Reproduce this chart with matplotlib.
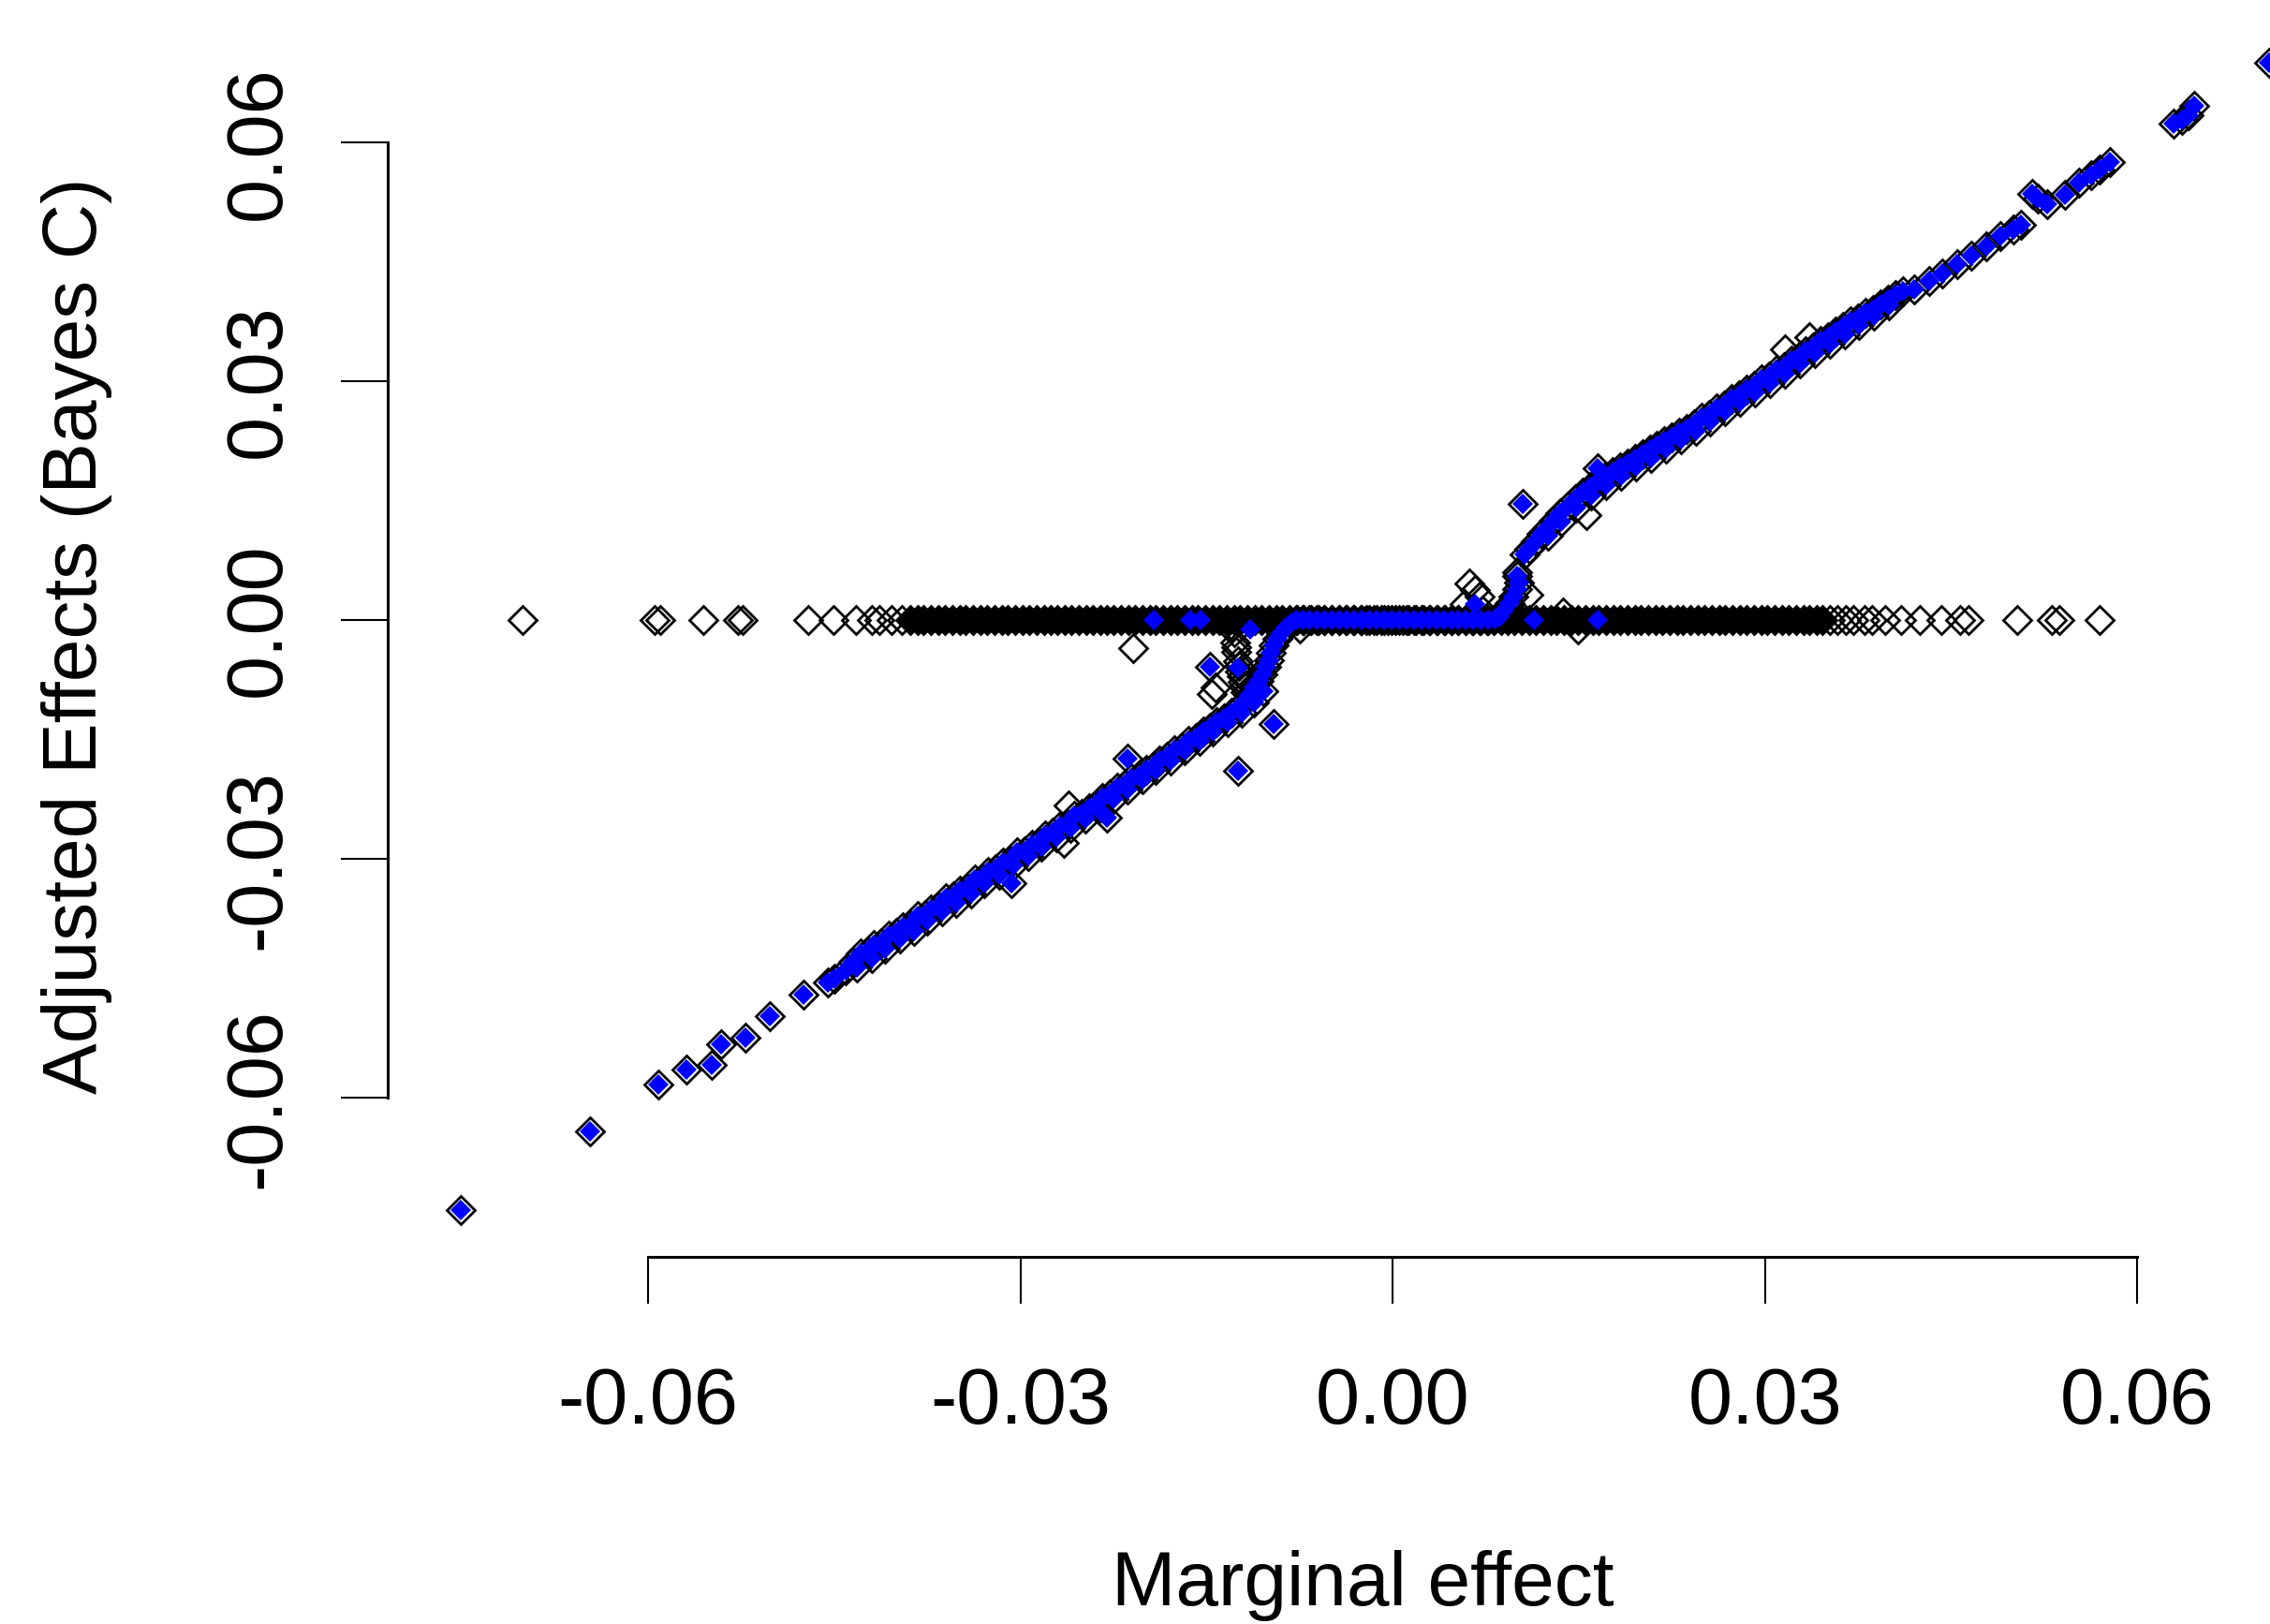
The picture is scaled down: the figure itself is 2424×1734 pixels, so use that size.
import matplotlib
matplotlib.use('Agg')
import matplotlib.pyplot as plt

plt.rcParams['font.family'] = ['Liberation Sans', 'DejaVu Sans']

# SNPs whose adjusted effect is zero (open diamonds, the sparse tails)
zero_x = [-0.0701, -0.0595, -0.0590, -0.0556, -0.0528, -0.0524, -0.0471, -0.0451, -0.0433,
          -0.0420, -0.0414, -0.0404, -0.0396,
          0.0352, 0.0358, 0.0365, 0.0371, 0.0380, 0.0386, 0.0397, 0.0410, 0.0425, 0.0442,
          0.0457, 0.0464, 0.0503, 0.0531, 0.0537, 0.0570]

# the heavily overplotted part of the zero line (thousands of SNPs, drawn solid)
zero_dense_x = [-0.0389, -0.0383, -0.0378, -0.0372, -0.0366, -0.0361, -0.0355, -0.0349, -0.0344, -0.0338,
                -0.0332, -0.0327, -0.0321, -0.0315, -0.0310, -0.0304, -0.0298, -0.0293, -0.0287, -0.0281,
                -0.0276, -0.0270, -0.0264, -0.0259, -0.0253, -0.0247, -0.0242, -0.0236, -0.0230, -0.0225,
                -0.0219, -0.0213, -0.0208, -0.0202, -0.0196, -0.0191, -0.0185, -0.0179, -0.0174, -0.0168,
                -0.0162, -0.0157, -0.0151, -0.0145, -0.0140, -0.0134, -0.0128, -0.0123, -0.0117, -0.0111,
                -0.0106, -0.0100, -0.0094, -0.0089, -0.0083, -0.0077, -0.0072, -0.0066, -0.0060, -0.0055,
                -0.0049, -0.0043, -0.0038, -0.0032, -0.0026, -0.0021, -0.0015, -0.0009, -0.0004, 0.0002,
                0.0008, 0.0013, 0.0019, 0.0025, 0.0030, 0.0036, 0.0042, 0.0047, 0.0053, 0.0059,
                0.0064, 0.0070, 0.0076, 0.0081, 0.0087, 0.0093, 0.0098, 0.0104, 0.0110, 0.0115,
                0.0121, 0.0127, 0.0132, 0.0138, 0.0144, 0.0149, 0.0155, 0.0161, 0.0166, 0.0172,
                0.0178, 0.0183, 0.0189, 0.0195, 0.0200, 0.0206, 0.0212, 0.0217, 0.0223, 0.0229,
                0.0234, 0.0240, 0.0246, 0.0251, 0.0257, 0.0263, 0.0268, 0.0274, 0.0280, 0.0285,
                0.0291, 0.0297, 0.0302, 0.0308, 0.0314, 0.0319, 0.0325, 0.0331, 0.0336, 0.0342, 0.0346]

# SNPs on the curve: plotted in black (plot) and again in blue (points)
curve_x = [-0.0751, -0.0647, -0.0592, -0.0569, -0.0549, -0.0541, -0.0522, -0.0502, -0.0475, -0.0455, -0.0450, -0.0441,
           -0.0435, -0.0429, -0.0423, -0.0418, -0.0412, -0.0406, -0.0400, -0.0395, -0.0389, -0.0383,
           -0.0377, -0.0372, -0.0366, -0.0360, -0.0354, -0.0349, -0.0343, -0.0337, -0.0331, -0.0326,
           -0.0320, -0.0314, -0.0308, -0.0303, -0.0297, -0.0291, -0.0285, -0.0280, -0.0274, -0.0268,
           -0.0262, -0.0257, -0.0251, -0.0245, -0.0239, -0.0234, -0.0228, -0.0222, -0.0216, -0.0211,
           -0.0205, -0.0199, -0.0193, -0.0188, -0.0182, -0.0176, -0.0170, -0.0165, -0.0159, -0.0153,
           -0.0147, -0.0142, -0.0136, -0.0130, -0.0125,
           -0.0120, -0.0116, -0.0112, -0.0108, -0.0105, -0.0102, -0.0100, -0.0098, -0.0096, -0.0093,
           -0.0090, -0.0086, -0.0082, -0.0078,
           -0.0073, -0.0067, -0.0061, -0.0055, -0.0049, -0.0043, -0.0037, -0.0031, -0.0025, -0.0019,
           -0.0013, -0.0007, -0.0001, 0.0005, 0.0011, 0.0017, 0.0023, 0.0029, 0.0035, 0.0041,
           0.0047, 0.0053, 0.0059, 0.0065, 0.0071, 0.0077, 0.0082,
           0.0086, 0.0090, 0.0094, 0.0097, 0.0100, 0.0102, 0.0100,
           0.0106, 0.0110, 0.0115, 0.0120, 0.0125, 0.0130, 0.0135, 0.0141, 0.0147, 0.0153,
           0.0159, 0.0165, 0.0171, 0.0177, 0.0183, 0.0189, 0.0195, 0.0201, 0.0207, 0.0213,
           0.0219, 0.0225, 0.0231, 0.0237, 0.0243, 0.0249, 0.0255, 0.0261, 0.0267, 0.0273,
           0.0279, 0.0285, 0.0291, 0.0297, 0.0303, 0.0309, 0.0315, 0.0321, 0.0327, 0.0333,
           0.0339, 0.0345, 0.0351, 0.0357, 0.0363, 0.0369, 0.0375, 0.0381, 0.0387, 0.0393,
           0.0399, 0.0405, 0.0411,
           0.0420, 0.0432, 0.0443, 0.0455, 0.0466, 0.0478, 0.0490, 0.0500, 0.0506,
           0.0515, 0.0520, 0.0527, 0.0542, 0.0553, 0.0563, 0.0570, 0.0578,
           0.0629, 0.0636, 0.0641, 0.0646, 0.0706,
           -0.0214, -0.0125, -0.0096, -0.0147, 0.0105, 0.0165, -0.0230, -0.0307]
curve_y = [-0.0741, -0.0642, -0.0583, -0.0565, -0.0559, -0.0533, -0.0525, -0.0498, -0.0471, -0.0455, -0.0450, -0.0440,
           -0.0429, -0.0419, -0.0417, -0.0408, -0.0406, -0.0396, -0.0393, -0.0386, -0.0383, -0.0372,
           -0.0370, -0.0363, -0.0360, -0.0349, -0.0347, -0.0340, -0.0336, -0.0326, -0.0325, -0.0316,
           -0.0313, -0.0305, -0.0302, -0.0292, -0.0290, -0.0282, -0.0280, -0.0270, -0.0267, -0.0259,
           -0.0256, -0.0246, -0.0244, -0.0236, -0.0232, -0.0223, -0.0219, -0.0210, -0.0207, -0.0199,
           -0.0196, -0.0188, -0.0184, -0.0176, -0.0172, -0.0164, -0.0160, -0.0152, -0.0148, -0.0140,
           -0.0135, -0.0128, -0.0123, -0.0116, -0.0110,
           -0.0103, -0.0094, -0.0085, -0.0076, -0.0068, -0.0059, -0.0050, -0.0041, -0.0032, -0.0024,
           -0.0016, -0.0009, -0.0004, 0.0000,
           0.0000, 0.0000, 0.0000, 0.0000, 0.0000, 0.0000, 0.0000, 0.0000, 0.0000, 0.0000,
           0.0000, 0.0000, 0.0000, 0.0000, 0.0000, 0.0000, 0.0000, 0.0000, 0.0000, 0.0000,
           0.0000, 0.0000, 0.0000, 0.0000, 0.0000, 0.0000, 0.0001,
           0.0004, 0.0012, 0.0021, 0.0030, 0.0039, 0.0047, 0.0055,
           0.0083, 0.0090, 0.0099, 0.0108, 0.0116, 0.0125, 0.0134, 0.0143, 0.0152, 0.0160,
           0.0167, 0.0174, 0.0180, 0.0186, 0.0192, 0.0197, 0.0203, 0.0208, 0.0214, 0.0219,
           0.0225, 0.0230, 0.0235, 0.0240, 0.0246, 0.0254, 0.0258, 0.0266, 0.0270, 0.0278,
           0.0282, 0.0290, 0.0294, 0.0302, 0.0306, 0.0314, 0.0318, 0.0326, 0.0331, 0.0338,
           0.0343, 0.0351, 0.0356, 0.0363, 0.0368, 0.0375, 0.0379, 0.0386, 0.0390, 0.0397,
           0.0402, 0.0408, 0.0413,
           0.0416, 0.0426, 0.0436, 0.0447, 0.0458, 0.0470, 0.0482, 0.0491, 0.0497,
           0.0535, 0.0530, 0.0522, 0.0534, 0.0549, 0.0559, 0.0566, 0.0575,
           0.0624, 0.0628, 0.0634, 0.0646, 0.0700,
           -0.0174, -0.0189, -0.0131, -0.0059, 0.0146, 0.0191, -0.0248, -0.0331]

# lower edge of the two dense diagonal bands (also black + blue)
band2_x = [-0.0432, -0.0420, -0.0409, -0.0397, -0.0386, -0.0375, -0.0363, -0.0352, -0.0340, -0.0329,
           -0.0317, -0.0306, -0.0294, -0.0283, -0.0271, -0.0260, -0.0248, -0.0237, -0.0225, -0.0214,
           -0.0202, -0.0191, -0.0179, -0.0168, -0.0156, -0.0145, -0.0133, -0.0122, -0.0112, -0.0104,
           0.0125, 0.0136, 0.0148, 0.0160, 0.0172, 0.0184, 0.0196, 0.0208, 0.0220, 0.0232,
           0.0244, 0.0256, 0.0268, 0.0280, 0.0292, 0.0304, 0.0316, 0.0328, 0.0340, 0.0352,
           0.0364, 0.0376, 0.0388, 0.0400]
band2_y = [-0.0436, -0.0425, -0.0413, -0.0400, -0.0390, -0.0378, -0.0366, -0.0355, -0.0343, -0.0331,
           -0.0320, -0.0308, -0.0296, -0.0285, -0.0273, -0.0261, -0.0249, -0.0237, -0.0225, -0.0213,
           -0.0200, -0.0188, -0.0176, -0.0164, -0.0152, -0.0140, -0.0128, -0.0116, -0.0103, -0.0089,
           0.0106, 0.0124, 0.0141, 0.0156, 0.0169, 0.0181, 0.0193, 0.0204, 0.0215, 0.0227,
           0.0238, 0.0250, 0.0262, 0.0274, 0.0286, 0.0298, 0.0310, 0.0322, 0.0335, 0.0347,
           0.0359, 0.0371, 0.0383, 0.0395]

# open diamonds off the curve with no blue point on them
black_x = [-0.0209, -0.0143, -0.0146, -0.0128, -0.0127, -0.0126, -0.0125, -0.0123, -0.0121, -0.0119,
           -0.0129, -0.0126, -0.0124, -0.0122, -0.0120,
           0.0062, 0.0066, 0.0070, 0.0058, 0.0072, 0.0109, 0.0137, 0.0149, 0.0156, 0.0316,
           0.0336, -0.0261, -0.0265, -0.0075, 0.0100]
black_y = [-0.0035, -0.0085, -0.0093, -0.0015, -0.0028, -0.0040, -0.0052, -0.0065, -0.0078, -0.0090,
           -0.0008, -0.0034, -0.0058, -0.0071, -0.0084,
           0.0046, 0.0038, 0.0030, 0.0020, 0.0012, 0.0032, 0.0010, -0.0012, 0.0132, 0.0340,
           0.0355, -0.0233, -0.0280, -0.0011, 0.0060]

# blue points sitting on the black zero band
blue_x = [-0.0193, -0.0163, -0.0155, 0.0114, 0.0165, -0.0125, -0.0115, 0.0066]
blue_y = [0.0, 0.0, 0.0, 0.0, 0.0, -0.0060, -0.0012, 0.0020]

ticks = [-0.06, -0.03, 0.00, 0.03, 0.06]
tick_labels = ['-0.06', '-0.03', '0.00', '0.03', '0.06']

fig = plt.figure(figsize=(24.24, 17.34), dpi=100)
ax = fig.add_axes([414 / 2424, 392 / 1734, 2010 / 2424, 1342 / 1734])

both_x = curve_x + band2_x
both_y = curve_y + band2_y
ax.plot(zero_x + both_x + black_x, [0.0] * len(zero_x) + both_y + black_y, 'D',
        ms=15.5, mfc='none', mec='black', mew=2.0)
ax.plot(zero_dense_x, [0.0] * len(zero_dense_x), 'D', ms=15.5, mfc='black', mec='black', mew=2.0)
ax.plot(both_x + blue_x, both_y + blue_y, 'D', ms=11.5, color='#0000ff', mew=0)

ax.set_xlim(-0.0810, 0.0707)
ax.set_ylim(-0.0800, 0.0779)
for s in ['top', 'right']:
    ax.spines[s].set_visible(False)
for s in ['left', 'bottom']:
    ax.spines[s].set_linewidth(2.2)
ax.spines['left'].set_bounds(-0.06, 0.06)
ax.spines['bottom'].set_bounds(-0.06, 0.06)

ax.set_xticks(ticks)
ax.set_xticklabels(tick_labels)
ax.set_yticks(ticks)
ax.set_yticklabels(tick_labels)
ax.tick_params(axis='both', length=36, width=1.5, labelsize=61)
ax.tick_params(axis='x', pad=92)
ax.tick_params(axis='y', pad=47)
for lab in ax.get_xticklabels():
    lab.set_va('baseline')
for lab in ax.get_yticklabels():
    lab.set_rotation(90)
    lab.set_rotation_mode('anchor')
    lab.set_ha('center')
    lab.set_va('baseline')

fig.text(1455 / 2424, 20 / 1734, 'Marginal effect', fontsize=59, ha='center', va='baseline')
fig.text(103 / 2424, 1055 / 1734, 'Adjusted Effects (Bayes C)', fontsize=59, rotation=90,
         rotation_mode='anchor', ha='center', va='baseline')

fig.savefig('out.png', dpi=100)
